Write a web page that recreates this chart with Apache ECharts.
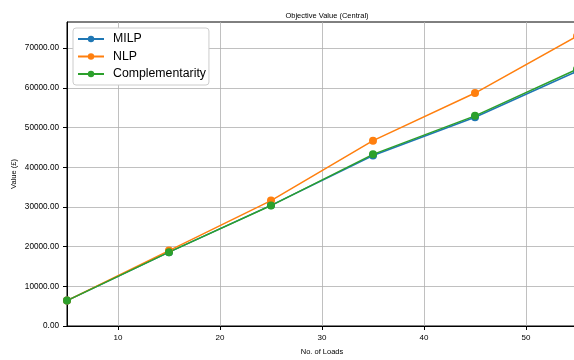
<!DOCTYPE html>
<html>
<head>
<meta charset="utf-8">
<script src="https://cdn.jsdelivr.net/npm/echarts@6/dist/echarts.min.js"></script>
<style>html,body{margin:0;padding:0;background:#fff}#c{width:574px;height:360px}</style>
</head>
<body>
<div id="c"></div>
<script>
const loads = [5, 15, 25, 35, 45, 55];
const milp = [6400, 18600, 30400, 42950, 52600, 64200];
const nlp = [6400, 19000, 31600, 46700, 58700, 73000];
const compl = [6400, 18600, 30350, 43250, 52950, 64700];
const xTicks = [10, 20, 30, 40, 50];
const yTicks = [0, 10000, 20000, 30000, 40000, 50000, 60000, 70000];

const chart = echarts.init(document.getElementById('c'), null, {renderer: 'canvas'});
const font = 'Liberation Sans, Arial, sans-serif';
function mk(name, data, color) {
  return {
    name: name, type: 'line',
    data: loads.map((x, i) => [x, data[i]]),
    symbol: 'circle', symbolSize: 8, showSymbol: true,
    lineStyle: {width: 1.5, color: color},
    itemStyle: {color: color},
    emphasis: {disabled: true}, animation: false, clip: false
  };
}
chart.setOption({
  animation: false,
  title: {text: 'Objective Value (Central)', left: 322, top: 7, textAlign: 'center',
    textStyle: {fontFamily: font, fontSize: 7.5, fontWeight: 'normal', color: '#000'}},
  grid: {left: 67, right: -3, top: 22, bottom: 34, outerBoundsMode: 'none', containLabel: false,
    show: true, borderColor: '#000', borderWidth: 1, backgroundColor: 'transparent'},
  legend: {
    left: 73, top: 28, orient: 'vertical', itemWidth: 26, itemHeight: 8, itemGap: 5.5,
    padding: [5, 3, 5, 4],
    backgroundColor: '#fff', borderColor: '#cccccc', borderWidth: 1, borderRadius: 3,
    textStyle: {fontFamily: font, fontSize: 12.3, color: '#000', padding: [0, 0, 0, 4]},
    data: ['MILP', 'NLP', 'Complementarity']
  },
  xAxis: {
    type: 'value', min: 5, max: 55,
    name: 'No. of Loads', nameLocation: 'middle', nameGap: 22, nameMoveOverlap: false,
    nameTextStyle: {fontFamily: font, fontSize: 7.5, color: '#000'},
    axisLine: {show: true, onZero: false, lineStyle: {color: '#000', width: 1}},
    axisTick: {show: true, length: 4, lineStyle: {color: '#000'}, customValues: xTicks},
    axisLabel: {fontFamily: font, fontSize: 8, color: '#000', margin: 8, customValues: xTicks},
    splitLine: {show: true, lineStyle: {color: '#b0b0b0', width: 0.8}}
  },
  yAxis: {
    type: 'value', min: 0, max: 76600,
    name: 'Value (£)', nameLocation: 'middle', nameGap: 49, nameRotate: 90, nameMoveOverlap: false,
    nameTextStyle: {fontFamily: font, fontSize: 7.5, color: '#000'},
    axisLine: {show: true, lineStyle: {color: '#000', width: 1}},
    axisTick: {show: true, length: 4, lineStyle: {color: '#000'}, customValues: yTicks},
    axisLabel: {fontFamily: font, fontSize: 8.2, color: '#000', margin: 8, customValues: yTicks,
      formatter: v => v.toFixed(2)},
    splitLine: {show: true, lineStyle: {color: '#b0b0b0', width: 0.8}}
  },
  series: [
    mk('MILP', milp, '#1f77b4'),
    mk('NLP', nlp, '#ff7f0e'),
    mk('Complementarity', compl, '#2ca02c')
  ]
});
</script>
</body>
</html>
